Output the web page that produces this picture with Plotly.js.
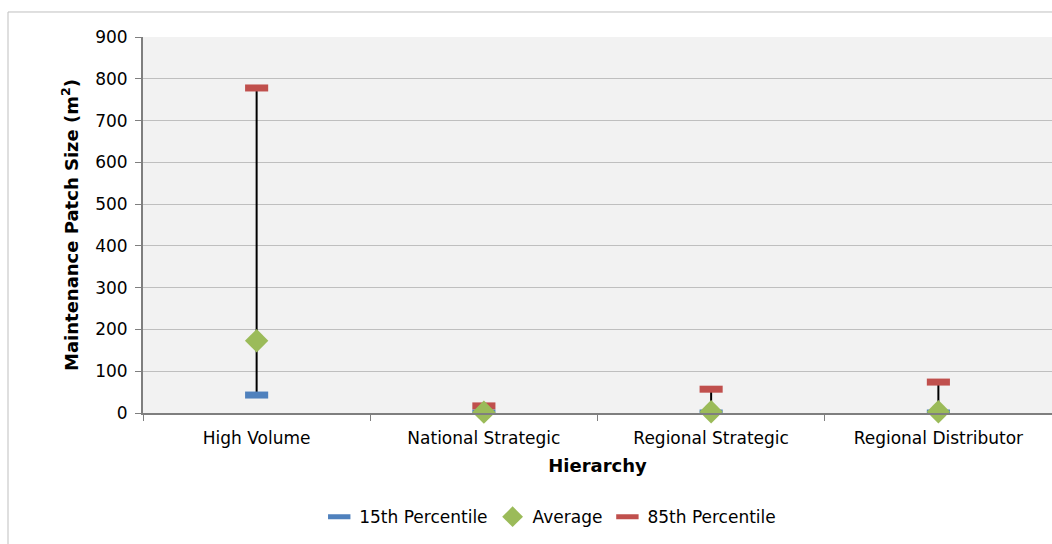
<!DOCTYPE html>
<html>
<head>
<meta charset="utf-8">
<script src="https://cdn.plot.ly/plotly-3.0.1.min.js"></script>
<style>html,body{margin:0;padding:0;background:#fff;}#chart{width:1052px;height:544px;}</style>
</head>
<body>
<div id="chart"></div>
<script>
var categories = ["High Volume", "National Strategic", "Regional Strategic", "Regional Distributor"];
var p15 = [43, 0, 0, 0];
var average = [173, 2, 3, 3];
var p85 = [778, 17, 57, 74];

var lineX = [], lineY = [];
for (var i = 0; i < categories.length; i++) {
  lineX.push(categories[i], categories[i], null);
  lineY.push(p15[i], p85[i], null);
}

var traces = [
  {x: lineX, y: lineY, mode: 'lines', type: 'scatter', line: {color: '#000000', width: 2},
   showlegend: false, hoverinfo: 'skip'},
  {x: categories, y: p15, mode: 'markers', type: 'scatter', name: '15th Percentile', legendrank: 1,
   marker: {symbol: 'line-ew', size: 16.5, color: '#4f81bd', line: {color: '#4f81bd', width: 7}}},
  {x: categories, y: p85, mode: 'markers', type: 'scatter', name: '85th Percentile', legendrank: 3,
   marker: {symbol: 'line-ew', size: 16.5, color: '#c0504d', line: {color: '#c0504d', width: 7}}},
  {x: categories, y: average, mode: 'markers', type: 'scatter', name: 'Average', legendrank: 2, cliponaxis: false,
   marker: {symbol: 'diamond', size: 18, color: '#9bbb59', line: {width: 0}}}
];

var layout = {
  width: 1052, height: 544,
  margin: {l: 143, r: 0, t: 37, b: 131},
  paper_bgcolor: '#ffffff',
  plot_bgcolor: '#f2f2f2',
  font: {family: 'DejaVu Sans, Liberation Sans, Arial, sans-serif', size: 17, color: '#000000'},
  xaxis: {
    type: 'category', categoryorder: 'array', categoryarray: categories,
    range: [-0.5, 3.5],
    tickson: 'boundaries', ticks: 'outside', ticklen: 6, tickcolor: '#7f7f7f',
    showline: true, linecolor: '#7f7f7f', linewidth: 2, showgrid: false, zeroline: false,
    tickfont: {size: 17}, ticklabelstandoff: 9,
    title: {text: '<b>Hierarchy</b>', font: {size: 18}, standoff: 12}
  },
  yaxis: {
    range: [0, 900], dtick: 100, ticks: 'outside', ticklen: 6, tickcolor: '#7f7f7f',
    showline: true, linecolor: '#7f7f7f', linewidth: 2,
    showgrid: true, gridcolor: '#bfbfbf', gridwidth: 1, zeroline: false,
    tickfont: {size: 17}, ticklabelstandoff: 4,
    title: {text: '<b>Maintenance Patch Size (m<sup>2</sup>)</b>', font: {size: 18}, standoff: 12}
  },
  legend: {orientation: 'h', x: 0.448, xanchor: 'center', y: -0.277, yanchor: 'middle',
           font: {size: 17}, bgcolor: 'rgba(0,0,0,0)', itemwidth: 30, traceorder: 'normal'},
  shapes: [{type: 'rect', xref: 'paper', yref: 'paper', x0: -0.1485, x1: 1.01, y0: -0.4, y1: 1.0665,
            line: {color: '#bfbfbf', width: 1}, fillcolor: 'rgba(0,0,0,0)', layer: 'below'}]
};

Plotly.newPlot('chart', traces, layout, {displayModeBar: false, responsive: false});
</script>
</body>
</html>
